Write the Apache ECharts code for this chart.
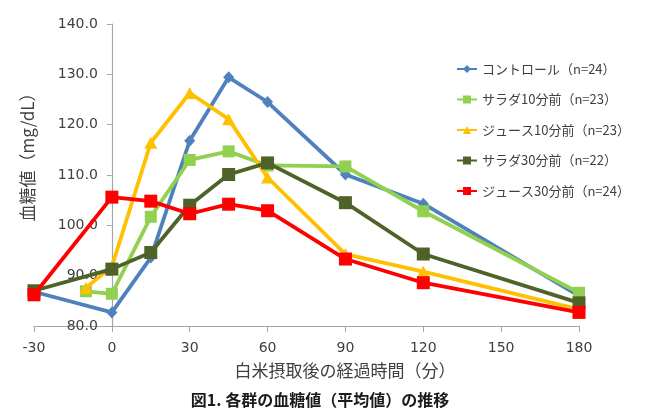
<!DOCTYPE html>
<html><head><meta charset="utf-8">
<script src="https://cdn.jsdelivr.net/npm/echarts@6/dist/echarts.min.js"></script>
<style>html,body{margin:0;padding:0;background:#fff}#c{width:650px;height:415px}</style>
</head><body><div id="c"></div>
<script>
const xTicks = [-30, 0, 30, 60, 90, 120, 150, 180];
const seriesNames = ['コントロール（n=24）','サラダ10分前（n=23）','ジュース10分前（n=23）','サラダ30分前（n=22）','ジュース30分前（n=24）'];
const timesControl = [-30, 0, 15, 30, 45, 60, 90, 120, 180];
const valsControl  = [86.8, 82.7, 93.6, 116.8, 129.4, 124.5, 110.1, 104.3, 86.0];
const timesSalad10 = [-10, 0, 15, 30, 45, 60, 90, 120, 180];
const valsSalad10  = [86.9, 86.4, 101.7, 113.0, 114.7, 111.9, 111.7, 102.8, 86.6];
const timesJuice10 = [-10, 0, 15, 30, 45, 60, 90, 120, 180];
const valsJuice10  = [87.6, 91.8, 116.4, 126.3, 121.1, 109.5, 94.3, 90.8, 83.3];
const timesSalad30 = [-30, 0, 15, 30, 45, 60, 90, 120, 180];
const valsSalad30  = [87.0, 91.3, 94.6, 104.0, 110.1, 112.4, 104.5, 94.3, 84.6];
const timesJuice30 = [-30, 0, 15, 30, 45, 60, 90, 120, 180];
const valsJuice30  = [86.2, 105.6, 104.8, 102.3, 104.2, 102.9, 93.3, 88.6, 82.7];
const yTicks = [80, 90, 100, 110, 120, 130, 140];

const colors = ['#4F81BD','#92D050','#FFC000','#4F6228','#FF0000'];
const symbols = ['diamond','rect','triangle','rect','rect'];
const symSizes = [[11,12], 12, [13,12], 13, 13];
const times = [timesControl, timesSalad10, timesJuice10, timesSalad30, timesJuice30];
const vals = [valsControl, valsSalad10, valsJuice10, valsSalad30, valsJuice30];

const series = seriesNames.map((n, i) => ({
  name: n, type: 'line',
  data: times[i].map((t, k) => [t, vals[i][k]]),
  symbol: symbols[i], symbolSize: symSizes[i],
  showAllSymbol: true,
  lineStyle: {color: colors[i], width: 3.8},
  itemStyle: {color: colors[i], borderWidth: 0},
  emphasis: {disabled: true},
  z: 2 + i
}));

const gridLeft = 34, gridRight = 71;
const plotW = 650 - gridLeft - gridRight;
const xMin = xTicks[0], xMax = xTicks[xTicks.length-1];
// shift the y axis onto x = 0 (as in the reference)
const yAxisOffset = -plotW * (0 - xMin) / (xMax - xMin);

const chart = echarts.init(document.getElementById('c'), null, {renderer: 'canvas'});
chart.setOption({
  animation: false,
  backgroundColor: '#fff',
  grid: {left: gridLeft, right: gridRight, top: 24, bottom: 89, containLabel: false, outerBoundsMode: 'none'},
  xAxis: {
    type: 'value', min: xMin, max: xMax, interval: 30,
    axisLine: {lineStyle: {color: '#a6a6a6', width: 1.2}},
    axisTick: {show: true, length: 6, lineStyle: {color: '#a6a6a6'}},
    axisLabel: {color: '#404040', fontSize: 14, fontFamily: 'DejaVu Sans', margin: 15},
    splitLine: {show: false}
  },
  yAxis: {
    type: 'value', min: yTicks[0], max: yTicks[yTicks.length-1], interval: 10,
    position: 'left', offset: yAxisOffset,
    axisLine: {show: true, onZero: false, lineStyle: {color: '#a6a6a6', width: 1.2}},
    axisTick: {show: true, length: 5, lineStyle: {color: '#a6a6a6'}},
    axisLabel: {color: '#404040', fontSize: 14, fontFamily: 'DejaVu Sans', margin: 14,
      formatter: v => v.toFixed(1)},
    splitLine: {show: false}
  },
  legend: {
    orient: 'vertical', left: 451, top: 56,
    itemWidth: 20, itemHeight: 10, itemGap: 14.5,
    textStyle: {color: '#404040', fontSize: 13, fontFamily: 'Noto Sans CJK JP', lineHeight: 16},
    data: seriesNames
  },
  graphic: [
    {type: 'text', x: 345, y: 371, silent: true,
      style: {text: '白米摂取後の経過時間（分）', fill: '#404040', font: '17px "Noto Sans CJK JP"', align: 'center', verticalAlign: 'middle'}},
    {type: 'text', x: 28, y: 153, rotation: Math.PI/2, silent: true,
      style: {text: '血糖値（mg/dL）', fill: '#404040', font: '17px "Noto Sans CJK JP"', align: 'center', verticalAlign: 'middle'}},
    {type: 'text', x: 320, y: 400, silent: true,
      style: {text: '図1. 各群の血糖値（平均値）の推移', fill: '#1a1a1a', font: 'bold 16px "Noto Sans CJK JP"', align: 'center', verticalAlign: 'middle'}}
  ],
  series: series
});
</script></body></html>
